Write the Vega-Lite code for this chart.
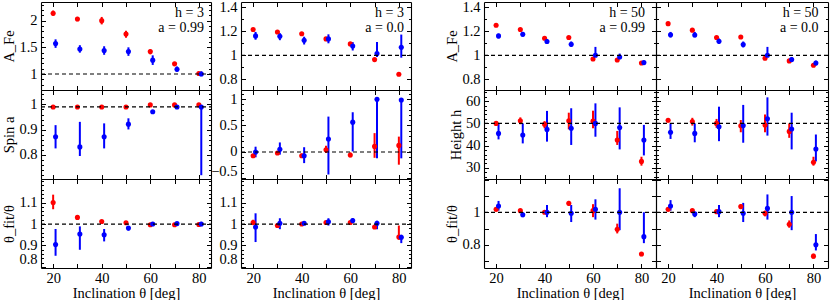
{
"$schema": "https://vega.github.io/schema/vega-lite/v6.json",
"autosize": {"type": "none"},
"padding": {"left": 41, "top": 2, "right": 2, "bottom": 32},
"width": 787,
"height": 266,
"background": "white",
"config": {
  "font": "Liberation Serif",
  "view": {"stroke": null},
  "axis": {"grid": false, "domain": true, "domainColor": "black", "domainWidth": 1.1, "tickColor": "black", "tickWidth": 1, "labelFont": "Liberation Serif", "labelFontSize": 14.5, "labelColor": "black", "titleFont": "Liberation Serif", "titleFontSize": 14.5, "titleFontWeight": "normal", "titleColor": "black", "labelOverlap": false, "labelFlush": false, "labelBound": false, "titlePadding": 2},
  "text": {"font": "Liberation Serif", "color": "black"}
},
"datasets": {"d": [
{"c":1,"r":1,"s":"r","x":20,"y":2.14,"lo":2.09,"hi":2.19},
{"c":1,"r":1,"s":"r","x":30,"y":2.03,"lo":1.99,"hi":2.07},
{"c":1,"r":1,"s":"r","x":40,"y":2.0,"lo":1.93,"hi":2.07},
{"c":1,"r":1,"s":"r","x":50,"y":1.75,"lo":1.68,"hi":1.81},
{"c":1,"r":1,"s":"r","x":60,"y":1.42,"lo":1.37,"hi":1.46},
{"c":1,"r":1,"s":"r","x":70,"y":1.19,"lo":1.17,"hi":1.21},
{"c":1,"r":1,"s":"r","x":80,"y":1.01,"lo":1.0,"hi":1.02},
{"c":1,"r":1,"s":"b","x":21,"y":1.57,"lo":1.49,"hi":1.65},
{"c":1,"r":1,"s":"b","x":31,"y":1.47,"lo":1.4,"hi":1.54},
{"c":1,"r":1,"s":"b","x":41,"y":1.44,"lo":1.36,"hi":1.52},
{"c":1,"r":1,"s":"b","x":51,"y":1.42,"lo":1.34,"hi":1.5},
{"c":1,"r":1,"s":"b","x":61,"y":1.26,"lo":1.17,"hi":1.35},
{"c":1,"r":1,"s":"b","x":71,"y":1.09,"lo":1.04,"hi":1.14},
{"c":1,"r":1,"s":"b","x":81,"y":1.0,"lo":0.96,"hi":1.05},
{"c":1,"r":2,"s":"r","x":20,"y":0.99,"lo":0.987,"hi":0.993},
{"c":1,"r":2,"s":"r","x":30,"y":0.99,"lo":0.987,"hi":0.993},
{"c":1,"r":2,"s":"r","x":40,"y":0.99,"lo":0.987,"hi":0.993},
{"c":1,"r":2,"s":"r","x":50,"y":0.99,"lo":0.987,"hi":0.993},
{"c":1,"r":2,"s":"r","x":60,"y":0.998,"lo":0.995,"hi":1.0},
{"c":1,"r":2,"s":"r","x":70,"y":0.998,"lo":0.995,"hi":1.0},
{"c":1,"r":2,"s":"r","x":80,"y":0.998,"lo":0.995,"hi":1.0},
{"c":1,"r":2,"s":"b","x":21,"y":0.872,"lo":0.826,"hi":0.918},
{"c":1,"r":2,"s":"b","x":31,"y":0.832,"lo":0.796,"hi":0.931},
{"c":1,"r":2,"s":"b","x":41,"y":0.872,"lo":0.826,"hi":0.925},
{"c":1,"r":2,"s":"b","x":51,"y":0.922,"lo":0.901,"hi":0.945},
{"c":1,"r":2,"s":"b","x":61,"y":0.971,"lo":0.965,"hi":0.977},
{"c":1,"r":2,"s":"b","x":71,"y":0.99,"lo":0.986,"hi":0.994},
{"c":1,"r":2,"s":"b","x":81,"y":0.99,"lo":0.72,"hi":0.997},
{"c":1,"r":3,"s":"r","x":20,"y":1.1,"lo":1.069,"hi":1.137},
{"c":1,"r":3,"s":"r","x":30,"y":1.031,"lo":1.02,"hi":1.04},
{"c":1,"r":3,"s":"r","x":40,"y":1.012,"lo":1.007,"hi":1.017},
{"c":1,"r":3,"s":"r","x":50,"y":1.006,"lo":1.002,"hi":1.01},
{"c":1,"r":3,"s":"r","x":60,"y":0.997,"lo":0.993,"hi":1.0},
{"c":1,"r":3,"s":"r","x":70,"y":0.997,"lo":0.993,"hi":1.0},
{"c":1,"r":3,"s":"r","x":80,"y":0.998,"lo":0.994,"hi":1.002},
{"c":1,"r":3,"s":"b","x":21,"y":0.904,"lo":0.852,"hi":0.977},
{"c":1,"r":3,"s":"b","x":31,"y":0.953,"lo":0.88,"hi":0.989},
{"c":1,"r":3,"s":"b","x":41,"y":0.95,"lo":0.919,"hi":0.977},
{"c":1,"r":3,"s":"b","x":51,"y":0.981,"lo":0.97,"hi":0.99},
{"c":1,"r":3,"s":"b","x":61,"y":1.0,"lo":0.996,"hi":1.004},
{"c":1,"r":3,"s":"b","x":71,"y":1.002,"lo":0.997,"hi":1.006},
{"c":1,"r":3,"s":"b","x":81,"y":1.0,"lo":0.99,"hi":1.01},
{"c":2,"r":1,"s":"r","x":20,"y":1.215,"lo":1.21,"hi":1.22},
{"c":2,"r":1,"s":"r","x":30,"y":1.195,"lo":1.19,"hi":1.2},
{"c":2,"r":1,"s":"r","x":40,"y":1.18,"lo":1.175,"hi":1.185},
{"c":2,"r":1,"s":"r","x":50,"y":1.137,"lo":1.13,"hi":1.144},
{"c":2,"r":1,"s":"r","x":60,"y":1.095,"lo":1.088,"hi":1.102},
{"c":2,"r":1,"s":"r","x":70,"y":0.964,"lo":0.957,"hi":0.971},
{"c":2,"r":1,"s":"r","x":80,"y":0.841,"lo":0.834,"hi":0.848},
{"c":2,"r":1,"s":"b","x":21,"y":1.162,"lo":1.13,"hi":1.195},
{"c":2,"r":1,"s":"b","x":31,"y":1.159,"lo":1.126,"hi":1.185},
{"c":2,"r":1,"s":"b","x":41,"y":1.126,"lo":1.09,"hi":1.155},
{"c":2,"r":1,"s":"b","x":51,"y":1.137,"lo":1.1,"hi":1.175},
{"c":2,"r":1,"s":"b","x":61,"y":1.078,"lo":1.04,"hi":1.11},
{"c":2,"r":1,"s":"b","x":71,"y":1.014,"lo":0.986,"hi":1.11},
{"c":2,"r":1,"s":"b","x":81,"y":1.067,"lo":0.98,"hi":1.173},
{"c":2,"r":2,"s":"r","x":20,"y":-0.07,"lo":-0.1,"hi":-0.04},
{"c":2,"r":2,"s":"r","x":30,"y":-0.02,"lo":-0.05,"hi":0.01},
{"c":2,"r":2,"s":"r","x":40,"y":-0.07,"lo":-0.11,"hi":-0.03},
{"c":2,"r":2,"s":"r","x":50,"y":0.043,"lo":-0.02,"hi":0.118},
{"c":2,"r":2,"s":"r","x":60,"y":-0.056,"lo":-0.1,"hi":-0.01},
{"c":2,"r":2,"s":"r","x":70,"y":0.105,"lo":-0.11,"hi":0.356},
{"c":2,"r":2,"s":"r","x":80,"y":0.124,"lo":-0.24,"hi":0.29},
{"c":2,"r":2,"s":"b","x":21,"y":0.0,"lo":-0.1,"hi":0.1},
{"c":2,"r":2,"s":"b","x":31,"y":0.05,"lo":-0.05,"hi":0.18},
{"c":2,"r":2,"s":"b","x":41,"y":-0.07,"lo":-0.21,"hi":0.09},
{"c":2,"r":2,"s":"b","x":51,"y":0.244,"lo":-0.425,"hi":0.668},
{"c":2,"r":2,"s":"b","x":61,"y":0.563,"lo":0.01,"hi":0.75},
{"c":2,"r":2,"s":"b","x":71,"y":0.994,"lo":-0.12,"hi":1.0},
{"c":2,"r":2,"s":"b","x":81,"y":0.98,"lo":-0.12,"hi":0.98},
{"c":2,"r":3,"s":"r","x":20,"y":1.007,"lo":0.995,"hi":1.02},
{"c":2,"r":3,"s":"r","x":30,"y":0.993,"lo":0.988,"hi":0.998},
{"c":2,"r":3,"s":"r","x":40,"y":1.0,"lo":0.996,"hi":1.004},
{"c":2,"r":3,"s":"r","x":50,"y":1.007,"lo":1.002,"hi":1.012},
{"c":2,"r":3,"s":"r","x":60,"y":1.007,"lo":1.002,"hi":1.012},
{"c":2,"r":3,"s":"r","x":70,"y":0.986,"lo":0.981,"hi":0.991},
{"c":2,"r":3,"s":"r","x":80,"y":0.939,"lo":0.927,"hi":0.993},
{"c":2,"r":3,"s":"b","x":21,"y":0.986,"lo":0.916,"hi":1.05},
{"c":2,"r":3,"s":"b","x":31,"y":1.004,"lo":0.976,"hi":1.027},
{"c":2,"r":3,"s":"b","x":41,"y":1.004,"lo":0.995,"hi":1.013},
{"c":2,"r":3,"s":"b","x":51,"y":1.011,"lo":0.993,"hi":1.027},
{"c":2,"r":3,"s":"b","x":61,"y":1.016,"lo":1.005,"hi":1.027},
{"c":2,"r":3,"s":"b","x":71,"y":1.004,"lo":0.976,"hi":1.015},
{"c":2,"r":3,"s":"b","x":81,"y":0.938,"lo":0.911,"hi":0.95},
{"c":3,"r":1,"s":"r","x":20,"y":1.251,"lo":1.245,"hi":1.257},
{"c":3,"r":1,"s":"r","x":30,"y":1.215,"lo":1.209,"hi":1.221},
{"c":3,"r":1,"s":"r","x":40,"y":1.142,"lo":1.136,"hi":1.148},
{"c":3,"r":1,"s":"r","x":50,"y":1.148,"lo":1.142,"hi":1.154},
{"c":3,"r":1,"s":"r","x":60,"y":0.969,"lo":0.963,"hi":0.975},
{"c":3,"r":1,"s":"r","x":70,"y":0.961,"lo":0.955,"hi":0.967},
{"c":3,"r":1,"s":"r","x":80,"y":0.936,"lo":0.93,"hi":0.942},
{"c":3,"r":1,"s":"b","x":21,"y":1.162,"lo":1.14,"hi":1.18},
{"c":3,"r":1,"s":"b","x":31,"y":1.176,"lo":1.155,"hi":1.195},
{"c":3,"r":1,"s":"b","x":41,"y":1.115,"lo":1.095,"hi":1.135},
{"c":3,"r":1,"s":"b","x":51,"y":1.092,"lo":1.07,"hi":1.115},
{"c":3,"r":1,"s":"b","x":61,"y":1.0,"lo":0.986,"hi":1.07},
{"c":3,"r":1,"s":"b","x":71,"y":0.986,"lo":0.97,"hi":1.014},
{"c":3,"r":1,"s":"b","x":81,"y":0.939,"lo":0.925,"hi":0.955},
{"c":4,"r":1,"s":"r","x":20,"y":1.264,"lo":1.258,"hi":1.27},
{"c":4,"r":1,"s":"r","x":30,"y":1.21,"lo":1.204,"hi":1.216},
{"c":4,"r":1,"s":"r","x":40,"y":1.148,"lo":1.142,"hi":1.154},
{"c":4,"r":1,"s":"r","x":50,"y":1.153,"lo":1.147,"hi":1.159},
{"c":4,"r":1,"s":"r","x":60,"y":0.975,"lo":0.969,"hi":0.981},
{"c":4,"r":1,"s":"r","x":70,"y":0.953,"lo":0.947,"hi":0.959},
{"c":4,"r":1,"s":"r","x":80,"y":0.917,"lo":0.911,"hi":0.923},
{"c":4,"r":1,"s":"b","x":21,"y":1.172,"lo":1.148,"hi":1.195},
{"c":4,"r":1,"s":"b","x":31,"y":1.17,"lo":1.15,"hi":1.195},
{"c":4,"r":1,"s":"b","x":41,"y":1.117,"lo":1.095,"hi":1.14},
{"c":4,"r":1,"s":"b","x":51,"y":1.09,"lo":1.065,"hi":1.115},
{"c":4,"r":1,"s":"b","x":61,"y":1.0,"lo":0.986,"hi":1.07},
{"c":4,"r":1,"s":"b","x":71,"y":0.964,"lo":0.944,"hi":0.986},
{"c":4,"r":1,"s":"b","x":81,"y":0.935,"lo":0.915,"hi":0.955},
{"c":3,"r":2,"s":"r","x":20,"y":50,"lo":49.2,"hi":50.8},
{"c":3,"r":2,"s":"r","x":30,"y":51.2,"lo":49.6,"hi":52.7},
{"c":3,"r":2,"s":"r","x":40,"y":49.6,"lo":47.8,"hi":51},
{"c":3,"r":2,"s":"r","x":50,"y":51.2,"lo":47.3,"hi":54.8},
{"c":3,"r":2,"s":"r","x":60,"y":51,"lo":47.8,"hi":55.7},
{"c":3,"r":2,"s":"r","x":70,"y":42.5,"lo":40.3,"hi":46.6},
{"c":3,"r":2,"s":"r","x":80,"y":32.9,"lo":31,"hi":35},
{"c":3,"r":2,"s":"b","x":21,"y":45.5,"lo":42.8,"hi":50},
{"c":3,"r":2,"s":"b","x":31,"y":44.8,"lo":41,"hi":50},
{"c":3,"r":2,"s":"b","x":41,"y":47.3,"lo":41.8,"hi":55.6},
{"c":3,"r":2,"s":"b","x":51,"y":47.8,"lo":40.3,"hi":56.8},
{"c":3,"r":2,"s":"b","x":61,"y":50,"lo":44,"hi":59},
{"c":3,"r":2,"s":"b","x":71,"y":48.1,"lo":38.3,"hi":57.2},
{"c":3,"r":2,"s":"b","x":81,"y":42.5,"lo":35.6,"hi":49.3},
{"c":4,"r":2,"s":"r","x":20,"y":51.4,"lo":50.5,"hi":52.2},
{"c":4,"r":2,"s":"r","x":30,"y":50.8,"lo":49,"hi":52.5},
{"c":4,"r":2,"s":"r","x":40,"y":50,"lo":48,"hi":52},
{"c":4,"r":2,"s":"r","x":50,"y":48.9,"lo":46,"hi":51.5},
{"c":4,"r":2,"s":"r","x":60,"y":49.3,"lo":46,"hi":54},
{"c":4,"r":2,"s":"r","x":70,"y":46.4,"lo":43.5,"hi":50},
{"c":4,"r":2,"s":"r","x":80,"y":32.5,"lo":31,"hi":35},
{"c":4,"r":2,"s":"b","x":21,"y":46,"lo":43,"hi":50},
{"c":4,"r":2,"s":"b","x":31,"y":45.5,"lo":41.5,"hi":50},
{"c":4,"r":2,"s":"b","x":41,"y":48.5,"lo":42,"hi":57.5},
{"c":4,"r":2,"s":"b","x":51,"y":49,"lo":41.3,"hi":58.3},
{"c":4,"r":2,"s":"b","x":61,"y":52.1,"lo":44.5,"hi":61.7},
{"c":4,"r":2,"s":"b","x":71,"y":47.5,"lo":38.3,"hi":54.8},
{"c":4,"r":2,"s":"b","x":81,"y":38.5,"lo":32.9,"hi":45},
{"c":3,"r":3,"s":"r","x":20,"y":1.018,"lo":1.01,"hi":1.025},
{"c":3,"r":3,"s":"r","x":30,"y":1.01,"lo":1.003,"hi":1.017},
{"c":3,"r":3,"s":"r","x":40,"y":1.0,"lo":0.994,"hi":1.006},
{"c":3,"r":3,"s":"r","x":50,"y":1.055,"lo":1.04,"hi":1.07},
{"c":3,"r":3,"s":"r","x":60,"y":1.01,"lo":0.97,"hi":1.05},
{"c":3,"r":3,"s":"r","x":70,"y":0.895,"lo":0.87,"hi":0.93},
{"c":3,"r":3,"s":"r","x":80,"y":0.743,"lo":0.73,"hi":0.755},
{"c":3,"r":3,"s":"b","x":21,"y":1.039,"lo":1.01,"hi":1.07},
{"c":3,"r":3,"s":"b","x":31,"y":0.985,"lo":0.97,"hi":1.0},
{"c":3,"r":3,"s":"b","x":41,"y":1.0,"lo":0.97,"hi":1.045},
{"c":3,"r":3,"s":"b","x":51,"y":0.994,"lo":0.94,"hi":1.045},
{"c":3,"r":3,"s":"b","x":61,"y":1.018,"lo":0.955,"hi":1.08},
{"c":3,"r":3,"s":"b","x":71,"y":1.0,"lo":0.89,"hi":1.148},
{"c":3,"r":3,"s":"b","x":81,"y":0.85,"lo":0.81,"hi":1.0},
{"c":4,"r":3,"s":"r","x":20,"y":1.018,"lo":1.01,"hi":1.025},
{"c":4,"r":3,"s":"r","x":30,"y":1.01,"lo":1.003,"hi":1.017},
{"c":4,"r":3,"s":"r","x":40,"y":1.004,"lo":0.998,"hi":1.01},
{"c":4,"r":3,"s":"r","x":50,"y":1.035,"lo":1.02,"hi":1.05},
{"c":4,"r":3,"s":"r","x":60,"y":0.994,"lo":0.975,"hi":1.01},
{"c":4,"r":3,"s":"r","x":70,"y":0.926,"lo":0.905,"hi":0.95},
{"c":4,"r":3,"s":"r","x":80,"y":0.73,"lo":0.715,"hi":0.745},
{"c":4,"r":3,"s":"b","x":21,"y":1.039,"lo":1.01,"hi":1.075},
{"c":4,"r":3,"s":"b","x":31,"y":0.99,"lo":0.97,"hi":1.0},
{"c":4,"r":3,"s":"b","x":41,"y":1.004,"lo":0.97,"hi":1.045},
{"c":4,"r":3,"s":"b","x":51,"y":0.994,"lo":0.94,"hi":1.058},
{"c":4,"r":3,"s":"b","x":61,"y":1.024,"lo":0.955,"hi":1.11},
{"c":4,"r":3,"s":"b","x":71,"y":1.0,"lo":0.89,"hi":1.1},
{"c":4,"r":3,"s":"b","x":81,"y":0.8,"lo":0.765,"hi":0.866}
]},
"data": {"name": "d"},
"resolve": {"scale": {"x": "independent", "y": "independent"}, "axis": {"x": "independent", "y": "independent"}},
"layer": [
{"resolve":{"axis":{"x":"independent","y":"independent"}},"layer":[
 {"transform":[{"filter":"datum.c==1&&datum.r==1"}],"mark":{"type":"rule","strokeWidth":2},"encoding":{
  "x":{"field":"x","type":"quantitative","scale":{"domain":[15,85],"range":[0,170],"nice":false,"zero":false},"axis":{"orient":"bottom","offset":-178,"values":[20,30,40,50,60,70,80],"labels":false,"tickSize":-4.5,"title":null}},
  "y":{"field":"lo","type":"quantitative","scale":{"domain":[0.7,2.35],"range":[88,0],"nice":false,"zero":false},"axis":{"orient":"left","offset":0,"values":[1,1.5,2],"format":"~g","tickSize":-4.5,"labelPadding":8.5,"title":"A_Fe"}},
  "y2":{"field":"hi"},
  "color":{"field":"s","type":"nominal","scale":{"domain":["r","b"],"range":["#ff0000","#0000ff"]},"legend":null}}},
 {"transform":[{"filter":"datum.c==1&&datum.r==1"}],"mark":{"type":"point","filled":true,"size":26,"opacity":1},"encoding":{
  "x":{"field":"x","type":"quantitative","scale":{"domain":[15,85],"range":[0,170],"nice":false,"zero":false},"axis":{"orient":"top","offset":0,"values":[20,30,40,50,60,70,80],"labels":false,"tickSize":-4.5,"title":null}},
  "y":{"field":"y","type":"quantitative","scale":{"domain":[0.7,2.35],"range":[88,0],"nice":false,"zero":false},"axis":{"orient":"right","offset":-617,"values":[1,1.5,2],"labels":false,"tickSize":-4.5,"title":null}},
  "color":{"field":"s","type":"nominal","scale":{"domain":["r","b"],"range":["#ff0000","#0000ff"]},"legend":null}}},
 {"transform":[{"filter":"datum.c==1&&datum.r==1&&datum.x==20"}],"mark":{"type":"rule","color":"black","strokeDash":[4,3],"strokeWidth":1.2},"encoding":{
  "x":{"datum":15,"type":"quantitative","scale":{"domain":[15,85],"range":[0,170],"nice":false,"zero":false},"axis":null},"x2":{"datum":85},
  "y":{"datum":1,"type":"quantitative","scale":{"domain":[0.7,2.35],"range":[88,0],"nice":false,"zero":false},"axis":{"orient":"left","offset":0,"domain":false,"values":[0.8,0.9,1.1,1.2,1.3,1.4,1.6,1.7,1.8,1.9,2.1,2.2,2.3],"labels":false,"tickSize":-2.5,"title":null}}}},
 {"transform":[{"filter":"datum.c==1&&datum.r==1&&datum.x==20"}],"mark":{"type":"rule","strokeOpacity":0},"encoding":{
  "y":{"datum":1,"type":"quantitative","scale":{"domain":[0.7,2.35],"range":[88,0],"nice":false,"zero":false},"axis":{"orient":"right","offset":-617,"domain":false,"values":[0.8,0.9,1.1,1.2,1.3,1.4,1.6,1.7,1.8,1.9,2.1,2.2,2.3],"labels":false,"tickSize":-2.5,"title":null}}}},
 {"transform":[{"filter":"datum.c==1&&datum.r==1&&datum.x==20"}],"mark":{"type":"text","align":"right","baseline":"top","fontSize":14,"lineHeight":15,"text":["h = 3","a = 0.99"]},"encoding":{
  "x":{"datum":82.1,"type":"quantitative","scale":{"domain":[15,85],"range":[0,170],"nice":false,"zero":false},"axis":null},
  "y":{"datum":2.275,"type":"quantitative","scale":{"domain":[0.7,2.35],"range":[88,0],"nice":false,"zero":false},"axis":null}}}
]},
{"resolve":{"axis":{"x":"independent","y":"independent"}},"layer":[
 {"transform":[{"filter":"datum.c==1&&datum.r==2"}],"mark":{"type":"rule","strokeWidth":2},"encoding":{
  "x":{"field":"x","type":"quantitative","scale":{"domain":[15,85],"range":[0,170],"nice":false,"zero":false},"axis":{"orient":"bottom","offset":-89,"values":[20,30,40,50,60,70,80],"labels":false,"tickSize":-4.5,"title":null}},
  "y":{"field":"lo","type":"quantitative","scale":{"domain":[0.705,1.057],"range":[177,88],"nice":false,"zero":false},"axis":{"orient":"left","offset":0,"values":[0.8,0.9,1],"format":"~g","tickSize":-4.5,"labelPadding":8.5,"title":"Spin a"}},
  "y2":{"field":"hi"},
  "color":{"field":"s","type":"nominal","scale":{"domain":["r","b"],"range":["#ff0000","#0000ff"]},"legend":null}}},
 {"transform":[{"filter":"datum.c==1&&datum.r==2"}],"mark":{"type":"point","filled":true,"size":26,"opacity":1},"encoding":{
  "x":{"field":"x","type":"quantitative","scale":{"domain":[15,85],"range":[0,170],"nice":false,"zero":false},"axis":{"orient":"top","offset":-88,"values":[20,30,40,50,60,70,80],"labels":false,"tickSize":-4.5,"title":null}},
  "y":{"field":"y","type":"quantitative","scale":{"domain":[0.705,1.057],"range":[177,88],"nice":false,"zero":false},"axis":{"orient":"right","offset":-617,"values":[0.8,0.9,1],"labels":false,"tickSize":-4.5,"title":null}},
  "color":{"field":"s","type":"nominal","scale":{"domain":["r","b"],"range":["#ff0000","#0000ff"]},"legend":null}}},
 {"transform":[{"filter":"datum.c==1&&datum.r==2&&datum.x==20"}],"mark":{"type":"rule","color":"black","strokeDash":[4,3],"strokeWidth":1.2},"encoding":{
  "x":{"datum":15,"type":"quantitative","scale":{"domain":[15,85],"range":[0,170],"nice":false,"zero":false},"axis":null},"x2":{"datum":85},
  "y":{"datum":0.99,"type":"quantitative","scale":{"domain":[0.705,1.057],"range":[177,88],"nice":false,"zero":false},"axis":{"orient":"left","offset":0,"domain":false,"values":[0.72,0.74,0.76,0.78,0.82,0.84,0.86,0.88,0.92,0.94,0.96,0.98,1.02,1.04],"labels":false,"tickSize":-2.5,"title":null}}}},
 {"transform":[{"filter":"datum.c==1&&datum.r==2&&datum.x==20"}],"mark":{"type":"rule","strokeOpacity":0},"encoding":{
  "y":{"datum":0.99,"type":"quantitative","scale":{"domain":[0.705,1.057],"range":[177,88],"nice":false,"zero":false},"axis":{"orient":"right","offset":-617,"domain":false,"values":[0.72,0.74,0.76,0.78,0.82,0.84,0.86,0.88,0.92,0.94,0.96,0.98,1.02,1.04],"labels":false,"tickSize":-2.5,"title":null}}}}
]},
{"resolve":{"axis":{"x":"independent","y":"independent"}},"layer":[
 {"transform":[{"filter":"datum.c==1&&datum.r==3"}],"mark":{"type":"rule","strokeWidth":2},"encoding":{
  "x":{"field":"x","type":"quantitative","scale":{"domain":[15,85],"range":[0,170],"nice":false,"zero":false},"axis":{"orient":"bottom","offset":0,"values":[20,30,40,50,60,70,80],"format":"d","labelExpr":"datum.value % 20 == 0 ? datum.label : ''","tickSize":-4.5,"labelPadding":8,"title":"Inclination θ [deg]","titlePadding":1}},
  "y":{"field":"lo","type":"quantitative","scale":{"domain":[0.795,1.21],"range":[266,177],"nice":false,"zero":false},"axis":{"orient":"left","offset":0,"values":[0.8,0.9,1,1.1],"format":"~g","labelFlush":2,"tickSize":-4.5,"labelPadding":8.5,"title":"θ_fit/θ"}},
  "y2":{"field":"hi"},
  "color":{"field":"s","type":"nominal","scale":{"domain":["r","b"],"range":["#ff0000","#0000ff"]},"legend":null}}},
 {"transform":[{"filter":"datum.c==1&&datum.r==3"}],"mark":{"type":"point","filled":true,"size":26,"opacity":1},"encoding":{
  "x":{"field":"x","type":"quantitative","scale":{"domain":[15,85],"range":[0,170],"nice":false,"zero":false},"axis":{"orient":"top","offset":-177,"values":[20,30,40,50,60,70,80],"labels":false,"tickSize":-4.5,"title":null}},
  "y":{"field":"y","type":"quantitative","scale":{"domain":[0.795,1.21],"range":[266,177],"nice":false,"zero":false},"axis":{"orient":"right","offset":-617,"values":[0.8,0.9,1,1.1],"labels":false,"tickSize":-4.5,"title":null}},
  "color":{"field":"s","type":"nominal","scale":{"domain":["r","b"],"range":["#ff0000","#0000ff"]},"legend":null}}},
 {"transform":[{"filter":"datum.c==1&&datum.r==3&&datum.x==20"}],"mark":{"type":"rule","color":"black","strokeDash":[4,3],"strokeWidth":1.2},"encoding":{
  "x":{"datum":15,"type":"quantitative","scale":{"domain":[15,85],"range":[0,170],"nice":false,"zero":false},"axis":null},"x2":{"datum":85},
  "y":{"datum":1,"type":"quantitative","scale":{"domain":[0.795,1.21],"range":[266,177],"nice":false,"zero":false},"axis":{"orient":"left","offset":0,"domain":false,"values":[0.82,0.84,0.86,0.88,0.92,0.94,0.96,0.98,1.02,1.04,1.06,1.08,1.12,1.14,1.16,1.18,1.2],"labels":false,"tickSize":-2.5,"title":null}}}},
 {"transform":[{"filter":"datum.c==1&&datum.r==3&&datum.x==20"}],"mark":{"type":"rule","strokeOpacity":0},"encoding":{
  "y":{"datum":1,"type":"quantitative","scale":{"domain":[0.795,1.21],"range":[266,177],"nice":false,"zero":false},"axis":{"orient":"right","offset":-617,"domain":false,"values":[0.82,0.84,0.86,0.88,0.92,0.94,0.96,0.98,1.02,1.04,1.06,1.08,1.12,1.14,1.16,1.18,1.2],"labels":false,"tickSize":-2.5,"title":null}}}}
]},
{"resolve":{"axis":{"x":"independent","y":"independent"}},"layer":[
 {"transform":[{"filter":"datum.c==2&&datum.r==1"}],"mark":{"type":"rule","strokeWidth":2},"encoding":{
  "x":{"field":"x","type":"quantitative","scale":{"domain":[15,85],"range":[200,370],"nice":false,"zero":false},"axis":{"orient":"bottom","offset":-178,"values":[20,30,40,50,60,70,80],"labels":false,"tickSize":-4.5,"title":null}},
  "y":{"field":"lo","type":"quantitative","scale":{"domain":[0.71,1.445],"range":[88,0],"nice":false,"zero":false},"axis":{"orient":"left","offset":-200,"values":[0.8,1,1.2,1.4],"format":"~g","tickSize":-4.5,"labelPadding":8.5,"title":null}},
  "y2":{"field":"hi"},
  "color":{"field":"s","type":"nominal","scale":{"domain":["r","b"],"range":["#ff0000","#0000ff"]},"legend":null}}},
 {"transform":[{"filter":"datum.c==2&&datum.r==1"}],"mark":{"type":"point","filled":true,"size":26,"opacity":1},"encoding":{
  "x":{"field":"x","type":"quantitative","scale":{"domain":[15,85],"range":[200,370],"nice":false,"zero":false},"axis":{"orient":"top","offset":0,"values":[20,30,40,50,60,70,80],"labels":false,"tickSize":-4.5,"title":null}},
  "y":{"field":"y","type":"quantitative","scale":{"domain":[0.71,1.445],"range":[88,0],"nice":false,"zero":false},"axis":{"orient":"right","offset":-417,"values":[0.8,1,1.2,1.4],"labels":false,"tickSize":-4.5,"title":null}},
  "color":{"field":"s","type":"nominal","scale":{"domain":["r","b"],"range":["#ff0000","#0000ff"]},"legend":null}}},
 {"transform":[{"filter":"datum.c==2&&datum.r==1&&datum.x==20"}],"mark":{"type":"rule","color":"black","strokeDash":[4,3],"strokeWidth":1.2},"encoding":{
  "x":{"datum":15,"type":"quantitative","scale":{"domain":[15,85],"range":[200,370],"nice":false,"zero":false},"axis":null},"x2":{"datum":85},
  "y":{"datum":1,"type":"quantitative","scale":{"domain":[0.71,1.445],"range":[88,0],"nice":false,"zero":false},"axis":{"orient":"left","offset":-200,"domain":false,"values":[0.9,1.1,1.3],"labels":false,"tickSize":-2.5,"title":null}}}},
 {"transform":[{"filter":"datum.c==2&&datum.r==1&&datum.x==20"}],"mark":{"type":"rule","strokeOpacity":0},"encoding":{
  "y":{"datum":1,"type":"quantitative","scale":{"domain":[0.71,1.445],"range":[88,0],"nice":false,"zero":false},"axis":{"orient":"right","offset":-417,"domain":false,"values":[0.9,1.1,1.3],"labels":false,"tickSize":-2.5,"title":null}}}},
 {"transform":[{"filter":"datum.c==2&&datum.r==1&&datum.x==20"}],"mark":{"type":"text","align":"right","baseline":"top","fontSize":14,"lineHeight":15,"text":["h = 3","a = 0.0"]},"encoding":{
  "x":{"datum":82.1,"type":"quantitative","scale":{"domain":[15,85],"range":[200,370],"nice":false,"zero":false},"axis":null},
  "y":{"datum":1.412,"type":"quantitative","scale":{"domain":[0.71,1.445],"range":[88,0],"nice":false,"zero":false},"axis":null}}}
]},
{"resolve":{"axis":{"x":"independent","y":"independent"}},"layer":[
 {"transform":[{"filter":"datum.c==2&&datum.r==2"}],"mark":{"type":"rule","strokeWidth":2},"encoding":{
  "x":{"field":"x","type":"quantitative","scale":{"domain":[15,85],"range":[200,370],"nice":false,"zero":false},"axis":{"orient":"bottom","offset":-89,"values":[20,30,40,50,60,70,80],"labels":false,"tickSize":-4.5,"title":null}},
  "y":{"field":"lo","type":"quantitative","scale":{"domain":[-0.51,1.17],"range":[177,88],"nice":false,"zero":false},"axis":{"orient":"left","offset":-200,"values":[-0.5,0,0.5,1],"format":"~g","labelFlush":2,"tickSize":-4.5,"labelPadding":8.5,"title":null}},
  "y2":{"field":"hi"},
  "color":{"field":"s","type":"nominal","scale":{"domain":["r","b"],"range":["#ff0000","#0000ff"]},"legend":null}}},
 {"transform":[{"filter":"datum.c==2&&datum.r==2"}],"mark":{"type":"point","filled":true,"size":26,"opacity":1},"encoding":{
  "x":{"field":"x","type":"quantitative","scale":{"domain":[15,85],"range":[200,370],"nice":false,"zero":false},"axis":{"orient":"top","offset":-88,"values":[20,30,40,50,60,70,80],"labels":false,"tickSize":-4.5,"title":null}},
  "y":{"field":"y","type":"quantitative","scale":{"domain":[-0.51,1.17],"range":[177,88],"nice":false,"zero":false},"axis":{"orient":"right","offset":-417,"values":[-0.5,0,0.5,1],"labels":false,"tickSize":-4.5,"title":null}},
  "color":{"field":"s","type":"nominal","scale":{"domain":["r","b"],"range":["#ff0000","#0000ff"]},"legend":null}}},
 {"transform":[{"filter":"datum.c==2&&datum.r==2&&datum.x==20"}],"mark":{"type":"rule","color":"black","strokeDash":[4,3],"strokeWidth":1.2},"encoding":{
  "x":{"datum":15,"type":"quantitative","scale":{"domain":[15,85],"range":[200,370],"nice":false,"zero":false},"axis":null},"x2":{"datum":85},
  "y":{"datum":0,"type":"quantitative","scale":{"domain":[-0.51,1.17],"range":[177,88],"nice":false,"zero":false},"axis":{"orient":"left","offset":-200,"domain":false,"values":[-0.4,-0.3,-0.2,-0.1,0.1,0.2,0.3,0.4,0.6,0.7,0.8,0.9,1.1],"labels":false,"tickSize":-2.5,"title":null}}}},
 {"transform":[{"filter":"datum.c==2&&datum.r==2&&datum.x==20"}],"mark":{"type":"rule","strokeOpacity":0},"encoding":{
  "y":{"datum":0,"type":"quantitative","scale":{"domain":[-0.51,1.17],"range":[177,88],"nice":false,"zero":false},"axis":{"orient":"right","offset":-417,"domain":false,"values":[-0.4,-0.3,-0.2,-0.1,0.1,0.2,0.3,0.4,0.6,0.7,0.8,0.9,1.1],"labels":false,"tickSize":-2.5,"title":null}}}}
]},
{"resolve":{"axis":{"x":"independent","y":"independent"}},"layer":[
 {"transform":[{"filter":"datum.c==2&&datum.r==3"}],"mark":{"type":"rule","strokeWidth":2},"encoding":{
  "x":{"field":"x","type":"quantitative","scale":{"domain":[15,85],"range":[200,370],"nice":false,"zero":false},"axis":{"orient":"bottom","offset":0,"values":[20,30,40,50,60,70,80],"format":"d","labelExpr":"datum.value % 20 == 0 ? datum.label : ''","tickSize":-4.5,"labelPadding":8,"title":"Inclination θ [deg]","titlePadding":1}},
  "y":{"field":"lo","type":"quantitative","scale":{"domain":[0.795,1.21],"range":[266,177],"nice":false,"zero":false},"axis":{"orient":"left","offset":-200,"values":[0.8,0.9,1,1.1],"format":"~g","labelFlush":2,"tickSize":-4.5,"labelPadding":8.5,"title":null}},
  "y2":{"field":"hi"},
  "color":{"field":"s","type":"nominal","scale":{"domain":["r","b"],"range":["#ff0000","#0000ff"]},"legend":null}}},
 {"transform":[{"filter":"datum.c==2&&datum.r==3"}],"mark":{"type":"point","filled":true,"size":26,"opacity":1},"encoding":{
  "x":{"field":"x","type":"quantitative","scale":{"domain":[15,85],"range":[200,370],"nice":false,"zero":false},"axis":{"orient":"top","offset":-177,"values":[20,30,40,50,60,70,80],"labels":false,"tickSize":-4.5,"title":null}},
  "y":{"field":"y","type":"quantitative","scale":{"domain":[0.795,1.21],"range":[266,177],"nice":false,"zero":false},"axis":{"orient":"right","offset":-417,"values":[0.8,0.9,1,1.1],"labels":false,"tickSize":-4.5,"title":null}},
  "color":{"field":"s","type":"nominal","scale":{"domain":["r","b"],"range":["#ff0000","#0000ff"]},"legend":null}}},
 {"transform":[{"filter":"datum.c==2&&datum.r==3&&datum.x==20"}],"mark":{"type":"rule","color":"black","strokeDash":[4,3],"strokeWidth":1.2},"encoding":{
  "x":{"datum":15,"type":"quantitative","scale":{"domain":[15,85],"range":[200,370],"nice":false,"zero":false},"axis":null},"x2":{"datum":85},
  "y":{"datum":1,"type":"quantitative","scale":{"domain":[0.795,1.21],"range":[266,177],"nice":false,"zero":false},"axis":{"orient":"left","offset":-200,"domain":false,"values":[0.82,0.84,0.86,0.88,0.92,0.94,0.96,0.98,1.02,1.04,1.06,1.08,1.12,1.14,1.16,1.18,1.2],"labels":false,"tickSize":-2.5,"title":null}}}},
 {"transform":[{"filter":"datum.c==2&&datum.r==3&&datum.x==20"}],"mark":{"type":"rule","strokeOpacity":0},"encoding":{
  "y":{"datum":1,"type":"quantitative","scale":{"domain":[0.795,1.21],"range":[266,177],"nice":false,"zero":false},"axis":{"orient":"right","offset":-417,"domain":false,"values":[0.82,0.84,0.86,0.88,0.92,0.94,0.96,0.98,1.02,1.04,1.06,1.08,1.12,1.14,1.16,1.18,1.2],"labels":false,"tickSize":-2.5,"title":null}}}}
]},
{"resolve":{"axis":{"x":"independent","y":"independent"}},"layer":[
 {"transform":[{"filter":"datum.c==3&&datum.r==1"}],"mark":{"type":"rule","strokeWidth":2},"encoding":{
  "x":{"field":"x","type":"quantitative","scale":{"domain":[15,86],"range":[443,615],"nice":false,"zero":false},"axis":{"orient":"bottom","offset":-178,"values":[20,30,40,50,60,70,80],"labels":false,"tickSize":-4.5,"title":null}},
  "y":{"field":"lo","type":"quantitative","scale":{"domain":[0.71,1.445],"range":[88,0],"nice":false,"zero":false},"axis":{"orient":"left","offset":-443,"values":[0.8,1,1.2,1.4],"format":"~g","tickSize":-4.5,"labelPadding":8.5,"title":"A_Fe"}},
  "y2":{"field":"hi"},
  "color":{"field":"s","type":"nominal","scale":{"domain":["r","b"],"range":["#ff0000","#0000ff"]},"legend":null}}},
 {"transform":[{"filter":"datum.c==3&&datum.r==1"}],"mark":{"type":"point","filled":true,"size":26,"opacity":1},"encoding":{
  "x":{"field":"x","type":"quantitative","scale":{"domain":[15,86],"range":[443,615],"nice":false,"zero":false},"axis":{"orient":"top","offset":0,"values":[20,30,40,50,60,70,80],"labels":false,"tickSize":-4.5,"title":null}},
  "y":{"field":"y","type":"quantitative","scale":{"domain":[0.71,1.445],"range":[88,0],"nice":false,"zero":false},"axis":{"orient":"right","offset":-172,"values":[0.8,1,1.2,1.4],"labels":false,"tickSize":-4.5,"title":null}},
  "color":{"field":"s","type":"nominal","scale":{"domain":["r","b"],"range":["#ff0000","#0000ff"]},"legend":null}}},
 {"transform":[{"filter":"datum.c==3&&datum.r==1&&datum.x==20"}],"mark":{"type":"rule","color":"black","strokeDash":[4,3],"strokeWidth":1.2},"encoding":{
  "x":{"datum":15,"type":"quantitative","scale":{"domain":[15,86],"range":[443,615],"nice":false,"zero":false},"axis":null},"x2":{"datum":86},
  "y":{"datum":1,"type":"quantitative","scale":{"domain":[0.71,1.445],"range":[88,0],"nice":false,"zero":false},"axis":{"orient":"left","offset":-443,"domain":false,"values":[0.9,1.1,1.3],"labels":false,"tickSize":-2.5,"title":null}}}},
 {"transform":[{"filter":"datum.c==3&&datum.r==1&&datum.x==20"}],"mark":{"type":"rule","strokeOpacity":0},"encoding":{
  "y":{"datum":1,"type":"quantitative","scale":{"domain":[0.71,1.445],"range":[88,0],"nice":false,"zero":false},"axis":{"orient":"right","offset":-172,"domain":false,"values":[0.9,1.1,1.3],"labels":false,"tickSize":-2.5,"title":null}}}},
 {"transform":[{"filter":"datum.c==3&&datum.r==1&&datum.x==20"}],"mark":{"type":"text","align":"right","baseline":"top","fontSize":14,"lineHeight":15,"text":["h = 50","a = 0.99"]},"encoding":{
  "x":{"datum":81.5,"type":"quantitative","scale":{"domain":[15,86],"range":[443,615],"nice":false,"zero":false},"axis":null},
  "y":{"datum":1.412,"type":"quantitative","scale":{"domain":[0.71,1.445],"range":[88,0],"nice":false,"zero":false},"axis":null}}}
]},
{"resolve":{"axis":{"x":"independent","y":"independent"}},"layer":[
 {"transform":[{"filter":"datum.c==3&&datum.r==2"}],"mark":{"type":"rule","strokeWidth":2},"encoding":{
  "x":{"field":"x","type":"quantitative","scale":{"domain":[15,86],"range":[443,615],"nice":false,"zero":false},"axis":{"orient":"bottom","offset":-89,"values":[20,30,40,50,60,70,80],"labels":false,"tickSize":-4.5,"title":null}},
  "y":{"field":"lo","type":"quantitative","scale":{"domain":[25,65],"range":[177,88],"nice":false,"zero":false},"axis":{"orient":"left","offset":-443,"values":[30,40,50,60],"labelExpr":"format(datum.value, '.0f')","tickSize":-4.5,"labelPadding":8.5,"title":"Height h"}},
  "y2":{"field":"hi"},
  "color":{"field":"s","type":"nominal","scale":{"domain":["r","b"],"range":["#ff0000","#0000ff"]},"legend":null}}},
 {"transform":[{"filter":"datum.c==3&&datum.r==2"}],"mark":{"type":"point","filled":true,"size":26,"opacity":1},"encoding":{
  "x":{"field":"x","type":"quantitative","scale":{"domain":[15,86],"range":[443,615],"nice":false,"zero":false},"axis":{"orient":"top","offset":-88,"values":[20,30,40,50,60,70,80],"labels":false,"tickSize":-4.5,"title":null}},
  "y":{"field":"y","type":"quantitative","scale":{"domain":[25,65],"range":[177,88],"nice":false,"zero":false},"axis":{"orient":"right","offset":-172,"values":[30,40,50,60],"labels":false,"tickSize":-4.5,"title":null}},
  "color":{"field":"s","type":"nominal","scale":{"domain":["r","b"],"range":["#ff0000","#0000ff"]},"legend":null}}},
 {"transform":[{"filter":"datum.c==3&&datum.r==2&&datum.x==20"}],"mark":{"type":"rule","color":"black","strokeDash":[4,3],"strokeWidth":1.2},"encoding":{
  "x":{"datum":15,"type":"quantitative","scale":{"domain":[15,86],"range":[443,615],"nice":false,"zero":false},"axis":null},"x2":{"datum":86},
  "y":{"datum":50,"type":"quantitative","scale":{"domain":[25,65],"range":[177,88],"nice":false,"zero":false},"axis":{"orient":"left","offset":-443,"domain":false,"values":[26,28,32,34,36,38,42,44,46,48,52,54,56,58,62,64],"labels":false,"tickSize":-2.5,"title":null}}}},
 {"transform":[{"filter":"datum.c==3&&datum.r==2&&datum.x==20"}],"mark":{"type":"rule","strokeOpacity":0},"encoding":{
  "y":{"datum":50,"type":"quantitative","scale":{"domain":[25,65],"range":[177,88],"nice":false,"zero":false},"axis":{"orient":"right","offset":-172,"domain":false,"values":[26,28,32,34,36,38,42,44,46,48,52,54,56,58,62,64],"labels":false,"tickSize":-2.5,"title":null}}}}
]},
{"resolve":{"axis":{"x":"independent","y":"independent"}},"layer":[
 {"transform":[{"filter":"datum.c==3&&datum.r==3"}],"mark":{"type":"rule","strokeWidth":2},"encoding":{
  "x":{"field":"x","type":"quantitative","scale":{"domain":[15,86],"range":[443,615],"nice":false,"zero":false},"axis":{"orient":"bottom","offset":0,"values":[20,30,40,50,60,70,80],"format":"d","labelExpr":"datum.value % 20 == 0 ? datum.label : ''","tickSize":-4.5,"labelPadding":8,"title":"Inclination θ [deg]","titlePadding":1}},
  "y":{"field":"lo","type":"quantitative","scale":{"domain":[0.657,1.205],"range":[266,177],"nice":false,"zero":false},"axis":{"orient":"left","offset":-443,"values":[0.8,1],"format":"~g","tickSize":-4.5,"labelPadding":8.5,"title":"θ_fit/θ"}},
  "y2":{"field":"hi"},
  "color":{"field":"s","type":"nominal","scale":{"domain":["r","b"],"range":["#ff0000","#0000ff"]},"legend":null}}},
 {"transform":[{"filter":"datum.c==3&&datum.r==3"}],"mark":{"type":"point","filled":true,"size":26,"opacity":1},"encoding":{
  "x":{"field":"x","type":"quantitative","scale":{"domain":[15,86],"range":[443,615],"nice":false,"zero":false},"axis":{"orient":"top","offset":-177,"values":[20,30,40,50,60,70,80],"labels":false,"tickSize":-4.5,"title":null}},
  "y":{"field":"y","type":"quantitative","scale":{"domain":[0.657,1.205],"range":[266,177],"nice":false,"zero":false},"axis":{"orient":"right","offset":-172,"values":[0.7,0.8,0.9,1,1.1,1.2],"labels":false,"tickSize":-4.5,"title":null}},
  "color":{"field":"s","type":"nominal","scale":{"domain":["r","b"],"range":["#ff0000","#0000ff"]},"legend":null}}},
 {"transform":[{"filter":"datum.c==3&&datum.r==3&&datum.x==20"}],"mark":{"type":"rule","color":"black","strokeDash":[4,3],"strokeWidth":1.2},"encoding":{
  "x":{"datum":15,"type":"quantitative","scale":{"domain":[15,86],"range":[443,615],"nice":false,"zero":false},"axis":null},"x2":{"datum":86},
  "y":{"datum":1,"type":"quantitative","scale":{"domain":[0.657,1.205],"range":[266,177],"nice":false,"zero":false},"axis":{"orient":"left","offset":-443,"domain":false,"values":[0.7,0.9,1.1,1.2],"labels":false,"tickSize":-4.5,"title":null}}}}
]},
{"resolve":{"axis":{"x":"independent","y":"independent"}},"layer":[
 {"transform":[{"filter":"datum.c==4&&datum.r==1"}],"mark":{"type":"rule","strokeWidth":2},"encoding":{
  "x":{"field":"x","type":"quantitative","scale":{"domain":[15,86],"range":[615,787],"nice":false,"zero":false},"axis":{"orient":"bottom","offset":-178,"values":[20,30,40,50,60,70,80],"labels":false,"tickSize":-4.5,"title":null}},
  "y":{"field":"lo","type":"quantitative","scale":{"domain":[0.71,1.445],"range":[88,0],"nice":false,"zero":false},"axis":{"orient":"left","offset":-615,"values":[0.8,1,1.2,1.4],"labels":false,"tickSize":-4.5,"title":null}},
  "y2":{"field":"hi"},
  "color":{"field":"s","type":"nominal","scale":{"domain":["r","b"],"range":["#ff0000","#0000ff"]},"legend":null}}},
 {"transform":[{"filter":"datum.c==4&&datum.r==1"}],"mark":{"type":"point","filled":true,"size":26,"opacity":1},"encoding":{
  "x":{"field":"x","type":"quantitative","scale":{"domain":[15,86],"range":[615,787],"nice":false,"zero":false},"axis":{"orient":"top","offset":0,"values":[20,30,40,50,60,70,80],"labels":false,"tickSize":-4.5,"title":null}},
  "y":{"field":"y","type":"quantitative","scale":{"domain":[0.71,1.445],"range":[88,0],"nice":false,"zero":false},"axis":{"orient":"right","offset":0,"values":[0.8,1,1.2,1.4],"labels":false,"tickSize":-4.5,"title":null}},
  "color":{"field":"s","type":"nominal","scale":{"domain":["r","b"],"range":["#ff0000","#0000ff"]},"legend":null}}},
 {"transform":[{"filter":"datum.c==4&&datum.r==1&&datum.x==20"}],"mark":{"type":"rule","color":"black","strokeDash":[4,3],"strokeWidth":1.2},"encoding":{
  "x":{"datum":15,"type":"quantitative","scale":{"domain":[15,86],"range":[615,787],"nice":false,"zero":false},"axis":null},"x2":{"datum":86},
  "y":{"datum":1,"type":"quantitative","scale":{"domain":[0.71,1.445],"range":[88,0],"nice":false,"zero":false},"axis":{"orient":"left","offset":-615,"domain":false,"values":[0.9,1.1,1.3],"labels":false,"tickSize":-2.5,"title":null}}}},
 {"transform":[{"filter":"datum.c==4&&datum.r==1&&datum.x==20"}],"mark":{"type":"rule","strokeOpacity":0},"encoding":{
  "y":{"datum":1,"type":"quantitative","scale":{"domain":[0.71,1.445],"range":[88,0],"nice":false,"zero":false},"axis":{"orient":"right","offset":0,"domain":false,"values":[0.9,1.1,1.3],"labels":false,"tickSize":-2.5,"title":null}}}},
 {"transform":[{"filter":"datum.c==4&&datum.r==1&&datum.x==20"}],"mark":{"type":"text","align":"right","baseline":"top","fontSize":14,"lineHeight":15,"text":["h = 50","a = 0.0"]},"encoding":{
  "x":{"datum":82.1,"type":"quantitative","scale":{"domain":[15,86],"range":[615,787],"nice":false,"zero":false},"axis":null},
  "y":{"datum":1.412,"type":"quantitative","scale":{"domain":[0.71,1.445],"range":[88,0],"nice":false,"zero":false},"axis":null}}}
]},
{"resolve":{"axis":{"x":"independent","y":"independent"}},"layer":[
 {"transform":[{"filter":"datum.c==4&&datum.r==2"}],"mark":{"type":"rule","strokeWidth":2},"encoding":{
  "x":{"field":"x","type":"quantitative","scale":{"domain":[15,86],"range":[615,787],"nice":false,"zero":false},"axis":{"orient":"bottom","offset":-89,"values":[20,30,40,50,60,70,80],"labels":false,"tickSize":-4.5,"title":null}},
  "y":{"field":"lo","type":"quantitative","scale":{"domain":[25,65],"range":[177,88],"nice":false,"zero":false},"axis":{"orient":"left","offset":-615,"values":[30,40,50,60],"labels":false,"tickSize":-4.5,"title":null}},
  "y2":{"field":"hi"},
  "color":{"field":"s","type":"nominal","scale":{"domain":["r","b"],"range":["#ff0000","#0000ff"]},"legend":null}}},
 {"transform":[{"filter":"datum.c==4&&datum.r==2"}],"mark":{"type":"point","filled":true,"size":26,"opacity":1},"encoding":{
  "x":{"field":"x","type":"quantitative","scale":{"domain":[15,86],"range":[615,787],"nice":false,"zero":false},"axis":{"orient":"top","offset":-88,"values":[20,30,40,50,60,70,80],"labels":false,"tickSize":-4.5,"title":null}},
  "y":{"field":"y","type":"quantitative","scale":{"domain":[25,65],"range":[177,88],"nice":false,"zero":false},"axis":{"orient":"right","offset":0,"values":[30,40,50,60],"labels":false,"tickSize":-4.5,"title":null}},
  "color":{"field":"s","type":"nominal","scale":{"domain":["r","b"],"range":["#ff0000","#0000ff"]},"legend":null}}},
 {"transform":[{"filter":"datum.c==4&&datum.r==2&&datum.x==20"}],"mark":{"type":"rule","color":"black","strokeDash":[4,3],"strokeWidth":1.2},"encoding":{
  "x":{"datum":15,"type":"quantitative","scale":{"domain":[15,86],"range":[615,787],"nice":false,"zero":false},"axis":null},"x2":{"datum":86},
  "y":{"datum":50,"type":"quantitative","scale":{"domain":[25,65],"range":[177,88],"nice":false,"zero":false},"axis":{"orient":"left","offset":-615,"domain":false,"values":[26,28,32,34,36,38,42,44,46,48,52,54,56,58,62,64],"labels":false,"tickSize":-2.5,"title":null}}}},
 {"transform":[{"filter":"datum.c==4&&datum.r==2&&datum.x==20"}],"mark":{"type":"rule","strokeOpacity":0},"encoding":{
  "y":{"datum":50,"type":"quantitative","scale":{"domain":[25,65],"range":[177,88],"nice":false,"zero":false},"axis":{"orient":"right","offset":0,"domain":false,"values":[26,28,32,34,36,38,42,44,46,48,52,54,56,58,62,64],"labels":false,"tickSize":-2.5,"title":null}}}}
]},
{"resolve":{"axis":{"x":"independent","y":"independent"}},"layer":[
 {"transform":[{"filter":"datum.c==4&&datum.r==3"}],"mark":{"type":"rule","strokeWidth":2},"encoding":{
  "x":{"field":"x","type":"quantitative","scale":{"domain":[15,86],"range":[615,787],"nice":false,"zero":false},"axis":{"orient":"bottom","offset":0,"values":[20,30,40,50,60,70,80],"format":"d","labelExpr":"datum.value % 20 == 0 ? datum.label : ''","tickSize":-4.5,"labelPadding":8,"title":"Inclination θ [deg]","titlePadding":1}},
  "y":{"field":"lo","type":"quantitative","scale":{"domain":[0.657,1.205],"range":[266,177],"nice":false,"zero":false},"axis":{"orient":"left","offset":-615,"values":[0.7,0.8,0.9,1,1.1,1.2],"labels":false,"tickSize":-4.5,"title":null}},
  "y2":{"field":"hi"},
  "color":{"field":"s","type":"nominal","scale":{"domain":["r","b"],"range":["#ff0000","#0000ff"]},"legend":null}}},
 {"transform":[{"filter":"datum.c==4&&datum.r==3"}],"mark":{"type":"point","filled":true,"size":26,"opacity":1},"encoding":{
  "x":{"field":"x","type":"quantitative","scale":{"domain":[15,86],"range":[615,787],"nice":false,"zero":false},"axis":{"orient":"top","offset":-177,"values":[20,30,40,50,60,70,80],"labels":false,"tickSize":-4.5,"title":null}},
  "y":{"field":"y","type":"quantitative","scale":{"domain":[0.657,1.205],"range":[266,177],"nice":false,"zero":false},"axis":{"orient":"right","offset":0,"values":[0.7,0.8,0.9,1,1.1,1.2],"labels":false,"tickSize":-4.5,"title":null}},
  "color":{"field":"s","type":"nominal","scale":{"domain":["r","b"],"range":["#ff0000","#0000ff"]},"legend":null}}},
 {"transform":[{"filter":"datum.c==4&&datum.r==3&&datum.x==20"}],"mark":{"type":"rule","color":"black","strokeDash":[4,3],"strokeWidth":1.2},"encoding":{
  "x":{"datum":15,"type":"quantitative","scale":{"domain":[15,86],"range":[615,787],"nice":false,"zero":false},"axis":null},"x2":{"datum":86},
  "y":{"datum":1,"type":"quantitative","scale":{"domain":[0.657,1.205],"range":[266,177],"nice":false,"zero":false},"axis":null}}}
]}
]
}
